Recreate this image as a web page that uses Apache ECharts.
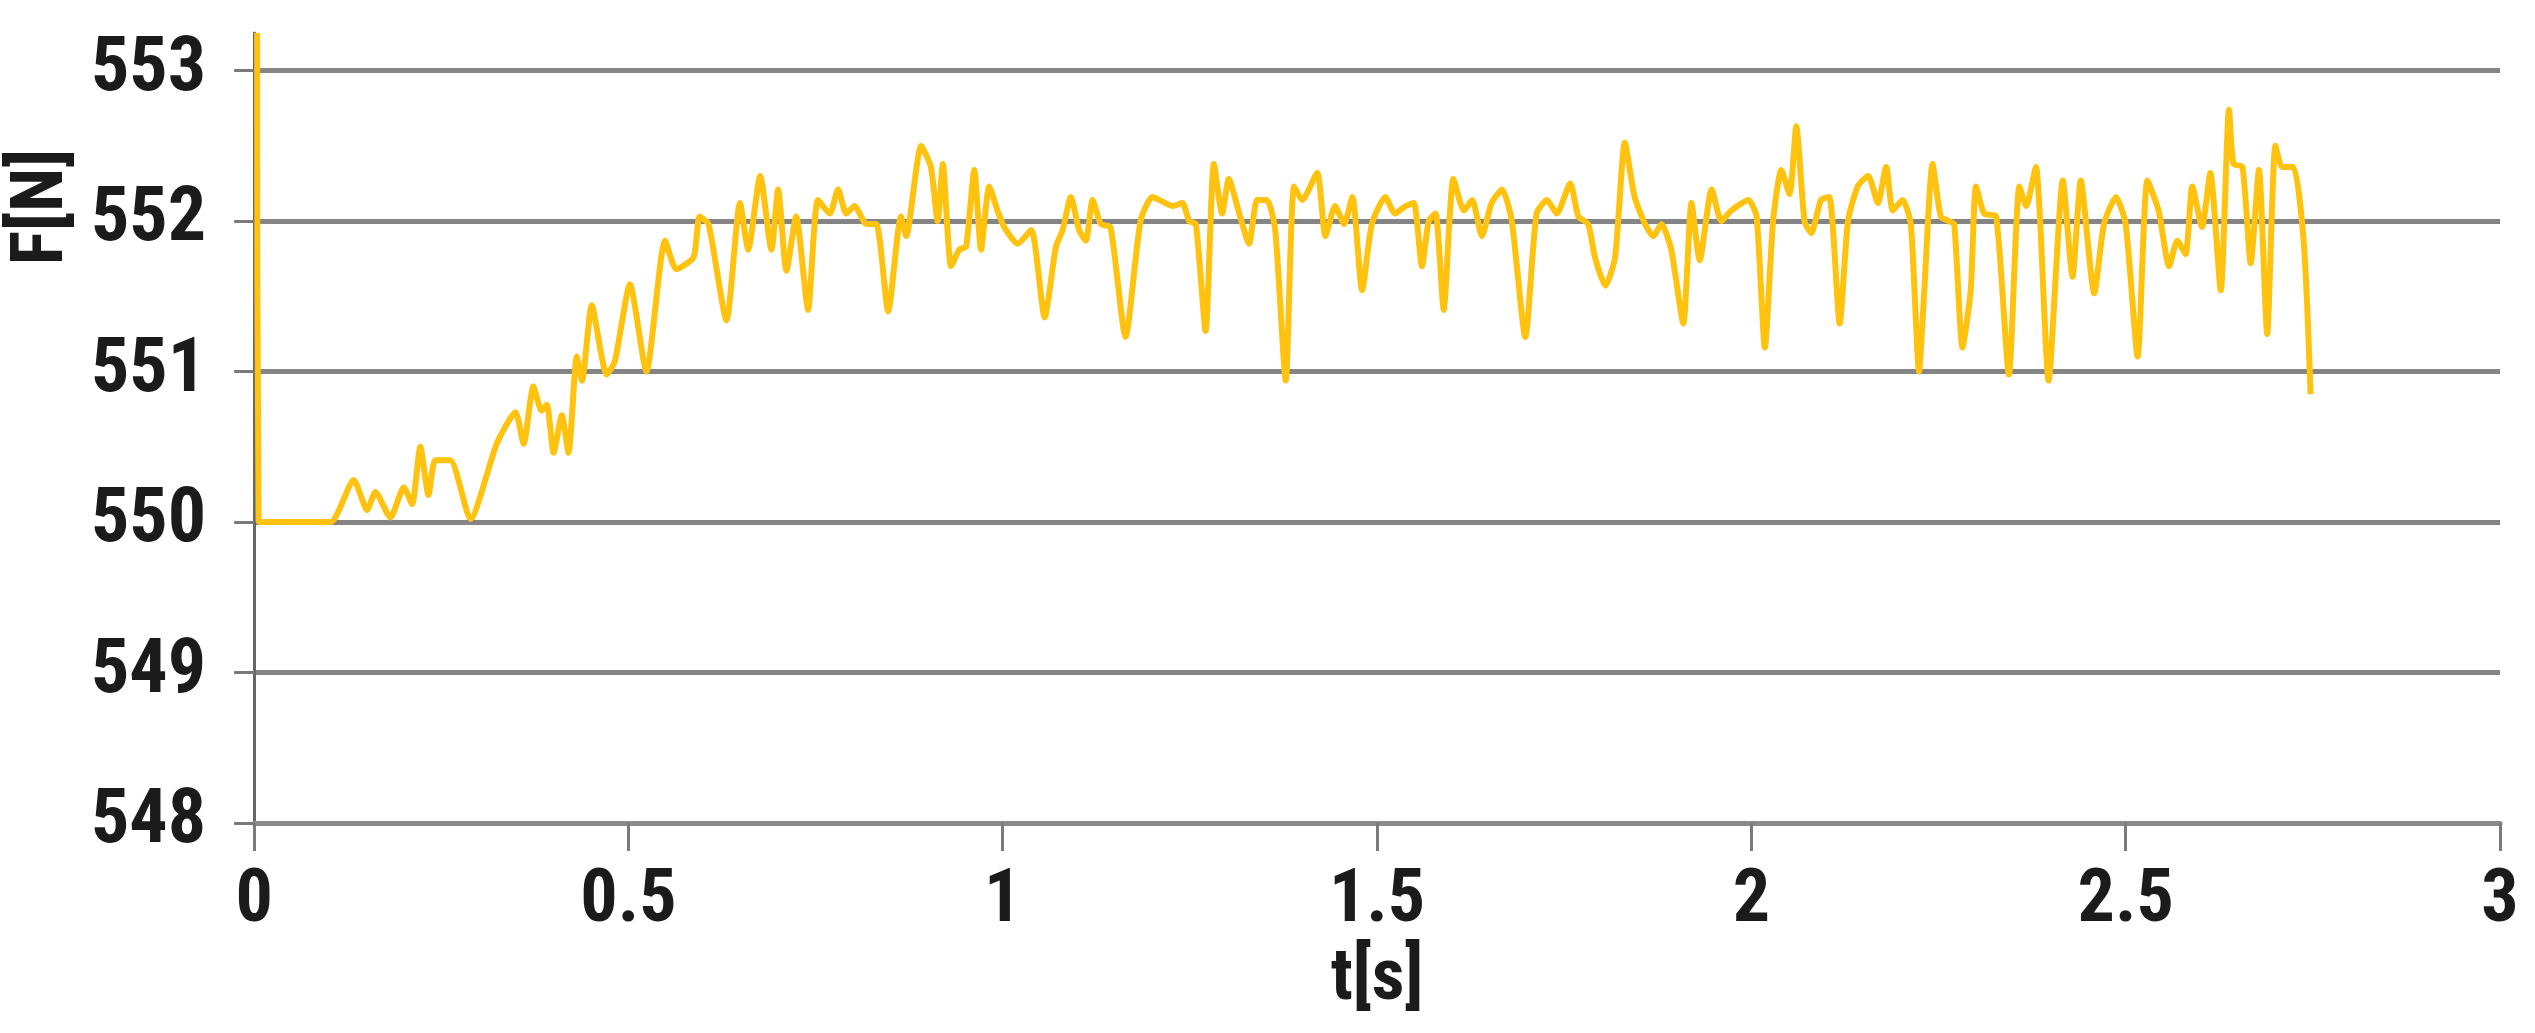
<!DOCTYPE html>
<html>
<head>
<meta charset="utf-8">
<title>F[N] over t[s]</title>
<script src="https://cdn.jsdelivr.net/npm/echarts@6/dist/echarts.min.js"></script>
<style>
    html, body { margin: 0; padding: 0; background: #ffffff; }
    #divChart { width: 2535px; height: 1033px; }
</style>
</head>
<body>
<div id="divChart"></div>
<script>
// force values, time in seconds
var arrTime = [
    0.004, 0.006, 0.05, 0.102, 0.133, 0.151, 0.162, 0.182, 0.2, 0.211,
    0.222, 0.233, 0.242, 0.262, 0.289, 0.324, 0.349, 0.36, 0.373, 0.384,
    0.391, 0.4, 0.411, 0.42, 0.431, 0.438, 0.451, 0.471, 0.482, 0.502,
    0.524, 0.549, 0.564, 0.587, 0.595, 0.607, 0.631, 0.649, 0.66, 0.676,
    0.691, 0.7, 0.711, 0.724, 0.74, 0.753, 0.769, 0.78, 0.791, 0.802,
    0.818, 0.831, 0.847, 0.864, 0.871, 0.891, 0.904, 0.913, 0.92, 0.931,
    0.942, 0.951, 0.962, 0.971, 0.982, 0.993, 1.002, 1.02, 1.038, 1.056,
    1.071, 1.08, 1.091, 1.102, 1.111, 1.12, 1.131, 1.144, 1.164, 1.184,
    1.2, 1.227, 1.24, 1.249, 1.258, 1.271, 1.282, 1.293, 1.302, 1.316,
    1.329, 1.34, 1.353, 1.364, 1.378, 1.389, 1.4, 1.42, 1.431, 1.444,
    1.456, 1.467, 1.48, 1.493, 1.511, 1.524, 1.538, 1.549, 1.56, 1.569,
    1.578, 1.589, 1.602, 1.616, 1.627, 1.64, 1.653, 1.667, 1.68, 1.698,
    1.713, 1.727, 1.74, 1.758, 1.769, 1.782, 1.791, 1.805, 1.818, 1.831,
    1.844, 1.858, 1.869, 1.88, 1.893, 1.909, 1.92, 1.931, 1.947, 1.96,
    1.973, 1.996, 2.007, 2.018, 2.029, 2.04, 2.051, 2.06, 2.071, 2.08,
    2.093, 2.104, 2.118, 2.129, 2.142, 2.156, 2.169, 2.18, 2.189, 2.202,
    2.213, 2.224, 2.231, 2.242, 2.253, 2.264, 2.271, 2.282, 2.293, 2.3,
    2.311, 2.327, 2.344, 2.358, 2.367, 2.38, 2.397, 2.416, 2.429, 2.44,
    2.458, 2.471, 2.487, 2.5, 2.516, 2.529, 2.544, 2.558, 2.569, 2.58,
    2.589, 2.602, 2.613, 2.627, 2.638, 2.644, 2.656, 2.667, 2.678, 2.689,
    2.7, 2.709, 2.724, 2.738, 2.747
];
var arrForce = [
    553.25, 550.0, 550.0, 550.0, 550.28, 550.08, 550.2, 550.03, 550.23, 550.12,
    550.5, 550.18, 550.41, 550.41, 550.02, 550.52, 550.73, 550.52, 550.9, 550.74,
    550.78, 550.46, 550.71, 550.46, 551.1, 550.94, 551.44, 550.98, 551.07, 551.58,
    551.0, 551.87, 551.68, 551.76, 552.03, 551.98, 551.34, 552.12, 551.81, 552.3,
    551.81, 552.21, 551.67, 552.03, 551.41, 552.14, 552.05, 552.21, 552.05, 552.1,
    551.98, 551.98, 551.4, 552.03, 551.9, 552.5, 552.36, 552.0, 552.38, 551.7,
    551.81, 551.83, 552.34, 551.81, 552.23, 552.07, 551.96, 551.85, 551.94, 551.36,
    551.83, 551.94, 552.16, 551.94, 551.87, 552.14, 551.98, 551.96, 551.23, 552.0,
    552.16, 552.1, 552.12, 552.0, 551.98, 551.27, 552.38, 552.05, 552.28, 552.05,
    551.85, 552.14, 552.14, 551.94, 550.94, 552.23, 552.14, 552.32, 551.9, 552.1,
    551.98, 552.16, 551.54, 551.98, 552.16, 552.05, 552.1, 552.12, 551.7, 552.0,
    552.05, 551.41, 552.28, 552.07, 552.14, 551.9, 552.12, 552.21, 552.0, 551.23,
    552.05, 552.14, 552.05, 552.25, 552.03, 551.98, 551.76, 551.57, 551.76, 552.52,
    552.16, 551.98, 551.9, 551.98, 551.81, 551.32, 552.12, 551.74, 552.21, 552.0,
    552.07, 552.14, 552.03, 551.16, 552.0, 552.34, 552.18, 552.63, 552.0, 551.92,
    552.14, 552.16, 551.32, 552.0, 552.23, 552.3, 552.12, 552.36, 552.07, 552.14,
    551.98, 551.0, 551.54, 552.38, 552.03, 552.0, 551.98, 551.16, 551.54, 552.23,
    552.05, 552.03, 550.98, 552.23, 552.1, 552.36, 550.94, 552.27, 551.63, 552.27,
    551.52, 551.98, 552.16, 551.98, 551.1, 552.27, 552.07, 551.7, 551.87, 551.78,
    552.23, 551.96, 552.32, 551.54, 552.74, 552.38, 552.36, 551.72, 552.34, 551.25,
    552.5, 552.36, 552.36, 551.85, 550.85
];
var arrYTicks = [548, 549, 550, 551, 552, 553];
var arrXTicks = [0, 0.5, 1, 1.5, 2, 2.5, 3];

var strFont = '"Liberation Sans Narrow", "Roboto Condensed", "DejaVu Sans Condensed", "Liberation Sans", Arial, sans-serif';
var arrPoints = [];
for (var intI = 0; intI < arrTime.length; intI++) {
    arrPoints.push([arrTime[intI], arrForce[intI]]);
};

var chartLine = echarts.init(document.getElementById('divChart'));
var optLine = {
    backgroundColor: '#ffffff',
    animation: false,
    grid: { left: 250, right: 35, top: 33, bottom: 210 },
    xAxis: {
        type: 'value',
        min: 0,
        max: 3,
        interval: 0.5,
        name: 't[s]',
        nameLocation: 'middle',
        nameGap: 122,
        nameTextStyle: { fontFamily: strFont, fontWeight: 'bold', fontSize: 72, color: '#1b1b1b' },
        axisLine: { onZero: false, lineStyle: { color: '#8a8a8a', width: 5 } },
        axisTick: { show: true, inside: false, length: 28, lineStyle: { color: '#7a7a7a', width: 3 } },
        axisLabel: {
            margin: 42,
            fontFamily: strFont,
            fontWeight: 'bold',
            fontSize: 74,
            color: '#1b1b1b',
            customValues: arrXTicks,
            formatter: function(val) { return String(val); }
        },
        splitLine: { show: false }
    },
    yAxis: {
        type: 'value',
        min: 548,
        max: 553.25,
        interval: 1,
        name: 'F[N]',
        nameLocation: 'middle',
        nameRotate: 90,
        nameGap: 140,
        nameTextStyle: {
            fontFamily: strFont, fontWeight: 'bold', fontSize: 72, color: '#1b1b1b',
            padding: [0, 0, 0, 442]
        },
        axisLine: { show: true, lineStyle: { color: '#666666', width: 3 } },
        axisTick: { show: true, length: 20, customValues: arrYTicks, lineStyle: { color: '#7a7a7a', width: 3 } },
        axisLabel: {
            margin: 48,
            fontFamily: strFont,
            fontWeight: 'bold',
            fontSize: 76,
            color: '#1b1b1b',
            customValues: arrYTicks
        },
        splitLine: { show: true, lineStyle: { color: '#858585', width: 5 } }
    },
    series: [{
        name: 'F',
        type: 'line',
        data: arrPoints,
        showSymbol: false,
        smooth: 0.2,
        lineStyle: { color: '#FFC20E', width: 6 },
        z: 3
    }]
};
chartLine.setOption(optLine);
</script>
</body>
</html>
